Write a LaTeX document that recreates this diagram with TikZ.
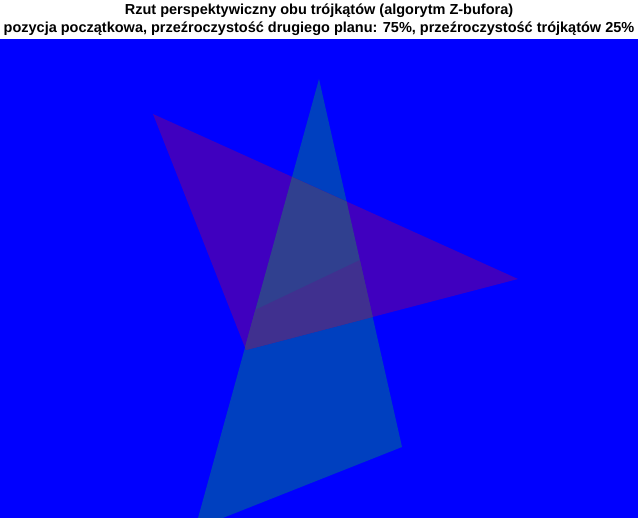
\documentclass[tikz,border=0pt]{standalone}
\usepackage{fontspec}
\setmainfont{Liberation Sans}
\definecolor{tlo}{HTML}{0000FF}
\definecolor{trojA}{RGB}{0,64,191}
\definecolor{trojB}{RGB}{64,0,191}
\definecolor{przodA}{RGB}{48,64,143}
\definecolor{przodB}{RGB}{64,48,143}
\begin{document}
\begin{tikzpicture}[x=1pt, y=-1pt,
        tytul/.style={font=\bfseries\fontsize{14.5}{17}\selectfont, inner sep=0pt}]
      \useasboundingbox (0,0) rectangle (638,518);
      \fill[tlo] (0,39.5) rectangle (638,518);
      % wierzcholki trojkatow
      \coordinate (a1) at (319,79);
      \coordinate (a2) at (402,447);
      \coordinate (a3) at (195,529);
      \coordinate (b1) at (153,114);
      \coordinate (b2) at (518,279);
      \coordinate (b3) at (246,350);
      \begin{scope}
        \clip (0,39.5) rectangle (638,518);
        \fill[trojA] (a1) -- (a2) -- (a3) -- cycle;
        \fill[trojB] (b1) -- (b2) -- (b3) -- cycle;
        % czesc wspolna (Z-bufor)
        \clip (a1) -- (a2) -- (a3) -- cycle;
        \clip (b1) -- (b2) -- (b3) -- cycle;
        \fill[przodA] (0,0) rectangle (638,518);
        \fill[przodB] (150,360) -- (550,169.5) -- (550,600) -- (150,600) -- cycle;
      \end{scope}
      \node[tytul] (t1) at (319,11) {Rzut perspektywiczny obu trójkątów (algorytm Z-bufora)};
      \node[tytul] (t2) at (319,28.5) {pozycja początkowa, przeźroczystość drugiego planu: 75\%, przeźroczystość trójkątów 25\%};
      \end{tikzpicture}
\end{document}
